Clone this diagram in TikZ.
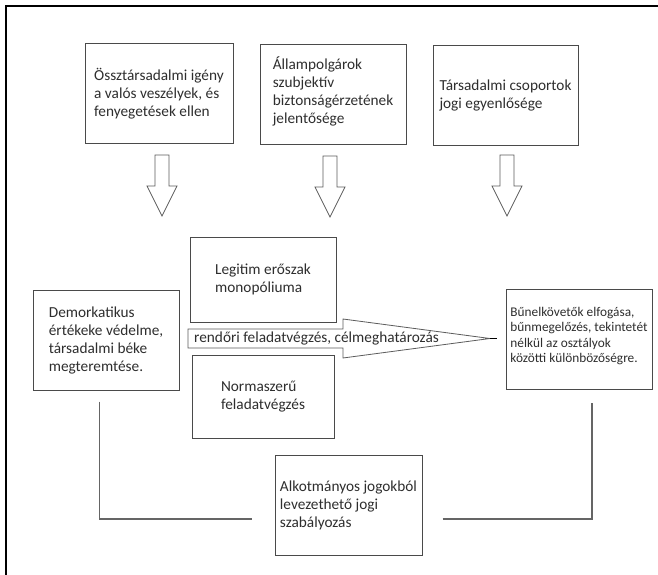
\documentclass[tikz,border=0pt]{standalone}
\usepackage{fontspec}
\setmainfont{Carlito}
\usetikzlibrary{positioning,calc}

\definecolor{linegray}{HTML}{4A4A4A}
\definecolor{textgray}{HTML}{2E2E2E}

\tikzset{
  box/.style={draw=linegray, line width=1pt, fill=white, align=left, inner sep=0pt,
    text=textgray, font=\fontsize{15.3}{18}\selectfont},
  smallbox/.style={box, font=\fontsize{13.3}{15.5}\selectfont},
  blockarrow/.style={draw=linegray!90, line width=0.8pt, fill=white, line join=miter},
  conn/.style={draw=linegray!85, line width=1.2pt},
}

\begin{document}
\begin{tikzpicture}[x=1pt, y=-1pt]
    \useasboundingbox (0,0) rectangle (658,575);

    % Frame
    \draw [line width=1.6pt] (6,575) -- (6,6) -- (658,6);

    % Top boxes
    \node [box, minimum width=148, minimum height=99] (igeny) at (159, 93.5)
      {Össztársadalmi igény\\a valós veszélyek, és\\fenyegetések ellen};
    \node [box, minimum width=146, minimum height=99] (biztonsag) at (333, 94.5)
      {Állampolgárok\\szubjektív\\biztonságérzetének\\jelentősége\\[-9pt]\mbox{}};
    \node [box, minimum width=145, minimum height=99] (egyenloseg) at (505.5, 95.5)
      {Társadalmi csoportok\\jogi egyenlősége};

    % Down arrows
    \foreach \x/\y in {162/155, 330/156, 507/155}
      \draw [blockarrow] (\x-7,\y) -- (\x+7,\y) -- (\x+7,\y+31) -- (\x+15,\y+31)
        -- (\x,\y+61) -- (\x-15,\y+31) -- (\x-7,\y+31) -- cycle;

    % Middle row
    \node [box, minimum width=146, minimum height=85] (legitim) at (263, 279.5)
      {Legitim erőszak\\monopóliuma};
    \node [box, minimum width=146, minimum height=100] (demokr) at (106, 340)
      {Demorkatikus\\értékeke védelme,\\társadalmi béke\\megteremtése.};
    \node [box, minimum width=142, minimum height=83] (norma) at (263, 396.5)
      {Normaszerű\\feladatvégzés};
    \node [smallbox, minimum width=146, minimum height=100] (bunelk) at (579, 339)
      {Bűnelkövetők elfogása,\\bűnmegelőzés, tekintetét\\nélkül az osztályok\\közötti különbözőségre.\\[-7pt]\mbox{}};

    % Horizontal arrow
    \coordinate (tip) at (490, 338.5);
    \draw [blockarrow] (188,329) -- (343,329) -- (343,319) -- (tip) -- (343,358)
      -- (343,348) -- (188,348) -- cycle;
    \draw [line width=1.6pt] (tip) -- ++(7,0);
    \node [anchor=west, inner sep=0pt, text=textgray, font=\fontsize{15.3}{18}\selectfont]
      (feladat) at (194, 338.5) {rendőri feladatvégzés, célmeghatározás};

    % Bottom box
    \node [box, minimum width=147, minimum height=100] (alkotm) at (348.5, 505)
      {Alkotmányos jogokból\\levezethető jogi\\szabályozás};

    % Side lines
    \draw [conn] ([xshift=-6.5pt, yshift=-11pt]demokr.south) |- ([xshift=-23pt, yshift=-14pt]alkotm.west);
    \draw [conn] ([xshift=20pt, yshift=-14pt]alkotm.east) -| ([xshift=13pt, yshift=-13pt]bunelk.south);
\end{tikzpicture}
\end{document}
